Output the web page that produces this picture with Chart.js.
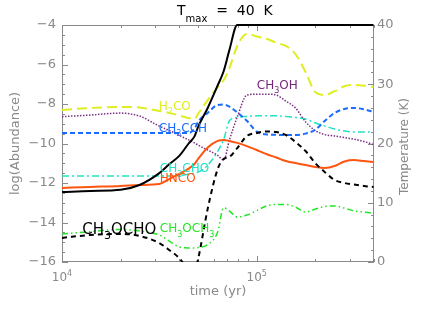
<!DOCTYPE html>
<html>
<head>
<meta charset="utf-8">
<script src="https://cdn.jsdelivr.net/npm/chart.js@4.4.1/dist/chart.umd.min.js"></script>
<style>
  html, body { margin: 0; padding: 0; background: #fff; }
  canvas { display: block; }
</style>
</head>
<body>
<canvas id="chart" width="444" height="311"></canvas>
<script>
// time grid (yr), shared by every curve
const times = [10000, 14000, 20000, 25000, 31600, 35500, 40000, 44700, 47900, 50000,
  56000, 63000, 67600, 72400, 79400, 89000, 100000, 112000, 126000, 141000,
  158000, 178000, 200000, 224000, 251000, 282000, 316000, 355000, 398000];

// log(abundance)
const h2co = [-8.30, -8.20, -8.15, -8.18, -8.35, -8.45, -8.58, -8.71, -8.75, -8.50,
  -7.80, -7.14, -6.80, -6.18, -5.06, -4.45, -4.58, -4.70, -4.90, -5.06,
  -5.47, -6.38, -7.40, -7.54, -7.35, -7.10, -7.04, -7.07, -7.14];
const ch3oh = [-8.64, -8.56, -8.46, -8.61, -9.12, -9.34, -9.59, -9.82, -9.97, -10.08,
  -10.33, -10.60, -10.84, -9.82, -8.66, -7.55, -7.50, -7.50, -7.55, -7.85,
  -8.20, -8.90, -9.35, -9.55, -9.62, -9.70, -9.78, -9.90, -10.05];
const ch3cch = [-9.47, -9.47, -9.47, -9.47, -9.47, -9.47, -9.47, -9.47, -9.25, -8.90,
  -8.45, -8.05, -8.03, -8.13, -8.43, -8.85, -9.40, -9.54, -9.56, -9.57,
  -9.57, -9.50, -9.30, -8.85, -8.45, -8.25, -8.20, -8.27, -8.40];
const ch3cho = [-11.65, -11.65, -11.65, -11.65, -11.65, -11.65, -11.62, -11.55, -11.50, -11.45,
  -11.10, -10.40, -9.80, -8.85, -8.68, -8.63, -8.60, -8.60, -8.60, -8.63,
  -8.68, -8.76, -8.96, -9.11, -9.27, -9.37, -9.42, -9.42, -9.42];
const hnco = [-12.25, -12.20, -12.15, -12.10, -12.05, -11.80, -11.54, -11.27, -11.04, -10.78,
  -10.20, -9.87, -9.82, -9.87, -9.97, -10.13, -10.33, -10.53, -10.71, -10.89,
  -10.99, -11.09, -11.19, -11.24, -11.14, -10.91, -10.84, -10.89, -10.94];
const ch3ocho = [-14.78, -14.63, -14.58, -14.68, -15.04, -15.39, -15.80, -16.40, -16.50, -15.85,
  -13.30, -11.30, -10.78, -10.68, -10.23, -9.62, -9.47, -9.39, -9.42, -9.57,
  -9.92, -10.38, -11.00, -11.45, -11.85, -12.00, -12.08, -12.15, -12.20];
const ch3och3 = [-14.58, -14.46, -14.35, -14.43, -14.63, -14.94, -15.24, -15.29, -15.29, -15.27,
  -15.12, -14.48, -13.25, -13.42, -13.72, -13.62, -13.40, -13.16, -13.09, -13.09,
  -13.22, -13.47, -13.32, -13.19, -13.16, -13.27, -13.42, -13.47, -13.52];

// temperature (K), right axis
const temperature = [11.8, 12.0, 12.2, 13.0, 15.0, 16.5, 17.9, 20.0, 21.2, 22.8,
  26.0, 29.8, 32.2, 35.8, 40, 40, 40, 40, 40, 40,
  40, 40, 40, 40, 40, 40, 40, 40, 40];

const abundanceTicks = [-16, -14, -12, -10, -8, -6, -4];
const temperatureTicks = [0, 10, 20, 30, 40];
const timeLabels = ['10^4', '10^5'];

const gray = '#8a8a8a';
const font = 'DejaVu Sans';

// species names, placed in data coordinates (time, log abundance)
const names = [
  { text: 'H_2CO',     t: 31400, v: -8.28,  color: '#dfee20', size: 12 },
  { text: 'CH_3CCH',   t: 31400, v: -9.40,  color: '#1a6cff', size: 12 },
  { text: 'CH_3OH',    t: 100000, v: -7.22, color: '#74267c', size: 12 },
  { text: 'CH_3CHO',   t: 31800, v: -11.45, color: '#22e2c4', size: 12 },
  { text: 'HNCO',      t: 31800, v: -11.95, color: '#ff5511', size: 12 },
  { text: 'CH_3OCHO',  t: 12700, v: -14.56, color: '#000000', size: 15 },
  { text: 'CH_3OCH_3', t: 31800, v: -14.50, color: '#22e622', size: 12 }
];

const pts = arr => arr.map((v, i) => ({ x: times[i], y: v }));

// text with _x / ^x (or _{..}) sub- and superscripts
function richText(ctx, str, x, y, size, drop, draw) {
  let cx = x;
  let i = 0;
  while (i < str.length) {
    let ch = str[i];
    let mode = 0;
    if (ch === '_' || ch === '^') {
      mode = ch === '_' ? 1 : -1;
      i++;
      if (str[i] === '{') {
        const end = str.indexOf('}', i);
        ch = str.slice(i + 1, end);
        i = end;
      } else {
        ch = str[i];
      }
    }
    const s = mode ? Math.round(size * 0.7) : size;
    ctx.font = s + 'px "' + font + '"';
    const dy = mode === 1 ? size * drop : mode === -1 ? -size * 0.42 : 0;
    if (draw) ctx.fillText(ch, cx, y + dy);
    cx += ctx.measureText(ch).width;
    i++;
  }
  return cx - x;
}

const decor = {
  id: 'decor',
  beforeDatasetsDraw(chart) {
    const { ctx, chartArea: a, scales } = chart;
    const x = scales.x, y = scales.y, t = scales.y2;
    ctx.save();
    ctx.strokeStyle = gray;
    ctx.lineWidth = 1;
    ctx.strokeRect(a.left + 0.5, a.top + 0.5, a.right - a.left - 1, a.bottom - a.top - 1);
    ctx.beginPath();
    // time ticks, bottom and top, pointing inwards
    for (let e = 4; e <= 5; e++) {
      for (let m = 1; m <= 9; m++) {
        const v = m * Math.pow(10, e);
        if (v > x.max) break;
        const px = Math.round(x.getPixelForValue(v)) + 0.5;
        const len = m === 1 ? 6 : 3;
        ctx.moveTo(px, a.bottom); ctx.lineTo(px, a.bottom - len);
        ctx.moveTo(px, a.top); ctx.lineTo(px, a.top + len);
      }
    }
    // abundance ticks, left
    for (let v = -16; v <= -4; v += 0.5) {
      const py = Math.round(y.getPixelForValue(v)) + 0.5;
      const len = v % 2 === 0 ? 6 : 3;
      ctx.moveTo(a.left, py); ctx.lineTo(a.left + len, py);
    }
    // temperature ticks, right
    for (let v = 0; v <= 40; v += 2) {
      const py = Math.round(t.getPixelForValue(v)) + 0.5;
      const len = v % 10 === 0 ? 6 : 3;
      ctx.moveTo(a.right, py); ctx.lineTo(a.right - len, py);
    }
    ctx.stroke();
    ctx.restore();
  },
  afterDatasetsDraw(chart) {
    const { ctx, chartArea: a, scales } = chart;
    const x = scales.x, y = scales.y;
    ctx.save();
    ctx.textBaseline = 'alphabetic';
    ctx.textAlign = 'left';

    // time tick labels
    ctx.fillStyle = gray;
    timeLabels.forEach(lbl => {
      const v = Math.pow(10, +lbl.split('^')[1]);
      const w = richText(ctx, lbl, 0, 0, 12, 0.35, false);
      richText(ctx, lbl, x.getPixelForValue(v) - w / 2, a.bottom + 19, 12, 0.35, true);
    });

    // axis titles
    ctx.font = '13px "' + font + '"';
    ctx.textAlign = 'center';
    ctx.fillText('time (yr)', (a.left + a.right) / 2, a.bottom + 33);
    ctx.textBaseline = 'middle';
    ctx.save();
    ctx.translate(16, (a.top + a.bottom) / 2);
    ctx.rotate(-Math.PI / 2);
    ctx.fillText('log(Abundance)', 0, 0);
    ctx.restore();
    ctx.save();
    ctx.font = '12px "' + font + '"';
    ctx.translate(a.right + 31, (a.top + a.bottom) / 2 + 3);
    ctx.rotate(-Math.PI / 2);
    ctx.fillText('Temperature (K)', 0, 0);
    ctx.restore();

    // title
    ctx.textAlign = 'left';
    ctx.textBaseline = 'alphabetic';
    ctx.fillStyle = '#000';
    richText(ctx, 'T_{max}  =  40  K', 177, 15, 14, 0.5, true);

    // species names
    names.forEach(n => {
      ctx.fillStyle = n.color;
      richText(ctx, n.text, x.getPixelForValue(n.t), y.getPixelForValue(n.v), n.size, 0.38, true);
    });
    ctx.restore();
  }
};

const line = (data, color, width, dash, extra) => Object.assign({
  data: pts(data),
  borderColor: color,
  borderWidth: width,
  borderDash: dash,
  pointRadius: 0,
  fill: false,
  cubicInterpolationMode: 'monotone',
  yAxisID: 'y'
}, extra || {});

new Chart(document.getElementById('chart'), {
  type: 'line',
  data: {
    datasets: [
      line(temperature, '#000000', 2, [], { yAxisID: 'y2', clip: { left: 0, top: 3, right: 0, bottom: 0 } }),
      line(ch3ocho, '#000000', 2, [5, 4], { clip: 0 }),
      line(hnco, '#ff5511', 2, []),
      line(h2co, '#dfee20', 2, [10, 5]),
      line(ch3cch, '#1a6cff', 2, [5, 3]),
      line(ch3oh, '#7d2f86', 1.5, [1.5, 1.5]),
      line(ch3cho, '#22e2c4', 1.5, [7, 3, 2, 3]),
      line(ch3och3, '#22e622', 1.5, [6, 3, 1.5, 3, 1.5, 3])
    ]
  },
  options: {
    responsive: false,
    devicePixelRatio: 1,
    animation: false,
    layout: { padding: { top: 25, left: 0, right: 0, bottom: 0 } },
    plugins: { legend: { display: false }, tooltip: { enabled: false } },
    scales: {
      x: {
        type: 'logarithmic',
        min: 10000,
        max: 400000,
        grid: { display: false, drawTicks: false },
        border: { display: false },
        ticks: { display: false },
        afterFit: s => { s.height = 49; }
      },
      y: {
        type: 'linear',
        position: 'left',
        min: -16,
        max: -4,
        afterBuildTicks: s => { s.ticks = abundanceTicks.map(v => ({ value: v })); },
        grid: { display: false, drawTicks: false },
        border: { display: false },
        ticks: {
          color: gray,
          padding: 6,
          font: { family: font, size: 13 },
          callback: v => '\u2212' + Math.abs(v)
        },
        afterFit: s => { s.width = 62; }
      },
      y2: {
        type: 'linear',
        position: 'right',
        min: 0,
        max: 40,
        afterBuildTicks: s => { s.ticks = temperatureTicks.map(v => ({ value: v })); },
        grid: { display: false, drawTicks: false },
        border: { display: false },
        ticks: {
          color: gray,
          padding: 3,
          font: { family: font, size: 13 }
        },
        afterFit: s => { s.width = 70; }
      }
    }
  },
  plugins: [decor]
});
</script>
</body>
</html>
